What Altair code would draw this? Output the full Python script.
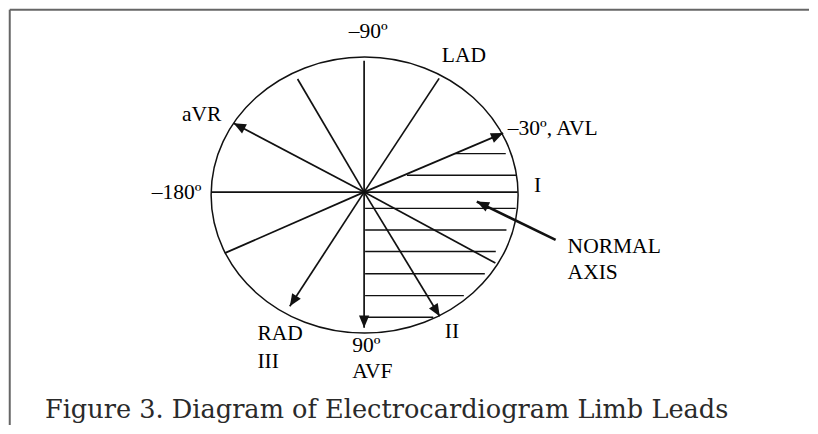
import math
import altair as alt
import pandas as pd

# Diagram units: 1 unit = 1 px, origin at the hub of the leads, y pointing up
# Spokes of the hexaxial reference system (end points on the ellipse)
spoke_name = ["-90", "LAD", "AVL", "I", "+30", "II", "AVF", "III", "+150", "-180", "aVR", "-120"]
spoke_x = [0, 75.2, 139.4, 154, 131.6, 75.8, 0, -74.5, -139.7, -153, -130.8, -66.7]
spoke_y = [132, 114.3, 59.3, 0, -71.3, -124.7, -136.3, -114.7, -61.3, 0, 69.3, 113.7]
spoke_arrow = [False, False, True, False, False, True, True, True, False, False, True, False]

# Hatching of the normal-axis sector
hatch_y = [38.7, 17, -16.3, -38, -59.7, -82, -104, -125.7]
hatch_x0 = [91.5, 43, 1, 1, 1, 1, 1, 1]
hatch_x1 = [142, 152.4, 152, 142.7, 132, 121, 100, 69.3]

# "Normal axis" pointer arrow (tail -> tip)
pointer_x = [192, 113]
pointer_y = [-48, -9.5]

# Outer ellipse
ell_cx, ell_cy, ell_a, ell_b = 0.5, -3, 153.5, 138

# Labels
label_text = ["–90º", "LAD", "aVR", "–30º, AVL", "I", "–180º", "NORMAL", "AXIS",
              "RAD", "III", "90º", "AVF", "II"]
label_x = [4, 100, -143, 144, 174, -163, 204, 204, -107, -107, -12, -12, 88]
label_y = [161, 137, 77, 63, 6, -1, -54.7, -81, -143, -171, -154.7, -181, -141]
label_align = ["center", "center", "right", "left", "center", "right", "left", "left",
               "left", "left", "left", "left", "center"]

caption = "Figure 3. Diagram of Electrocardiogram Limb Leads"
caption_x, caption_y = -320, -219

XD = [-356, 446]
YD = [-234, 184]
xs = alt.Scale(domain=XD, nice=False, zero=False)
ys = alt.Scale(domain=YD, nice=False, zero=False)


def X(f):
    return alt.X(f, type="quantitative", scale=xs, axis=None)


def Y(f):
    return alt.Y(f, type="quantitative", scale=ys, axis=None)


INK = "#111111"

spokes = pd.DataFrame({"name": spoke_name, "x": [0] * 12, "y": [0] * 12,
                       "x2": spoke_x, "y2": spoke_y, "arrow": spoke_arrow})
spoke_layer = alt.Chart(spokes).mark_rule(color=INK, strokeWidth=1.7).encode(
    x=X("x"), y=Y("y"), x2="x2", y2="y2")

hatch = pd.DataFrame({"y": hatch_y, "x0": hatch_x0, "x1": hatch_x1})
hatch_layer = alt.Chart(hatch).mark_rule(color=INK, strokeWidth=1.4).encode(
    x=X("x0"), x2="x1", y=Y("y"))

pointer = pd.DataFrame({"x": [pointer_x[0]], "y": [pointer_y[0]],
                        "x2": [pointer_x[1]], "y2": [pointer_y[1]]})
pointer_layer = alt.Chart(pointer).mark_rule(color=INK, strokeWidth=2.6).encode(
    x=X("x"), y=Y("y"), x2="x2", y2="y2")

# arrowheads: tips at the ends of the arrowed spokes and of the pointer
heads = []
for n, ex, ey, a in zip(spoke_name, spoke_x, spoke_y, spoke_arrow):
    if a:
        ang = math.degrees(math.atan2(ex, ey)) % 360
        heads.append({"x": ex, "y": ey, "angle": ang})
pang = math.degrees(math.atan2(pointer_x[1] - pointer_x[0], pointer_y[1] - pointer_y[0])) % 360
heads.append({"x": pointer_x[1], "y": pointer_y[1], "angle": pang})
heads = pd.DataFrame(heads)
head_layer = alt.Chart(heads).mark_point(
    shape="M0,0L-0.42,1L0.42,1Z", size=600, filled=True, color="#111", opacity=1,
    strokeWidth=0).encode(
    x=X("x"), y=Y("y"), angle=alt.Angle("angle:Q", scale=None))

ell = pd.DataFrame({"x": [ell_cx], "y": [ell_cy]})
ratio = ell_b / ell_a
ell_path = f"M-1,0A1,{ratio:.4f},0,1,1,1,0A1,{ratio:.4f},0,1,1,-1,0Z"
ell_layer = alt.Chart(ell).mark_point(
    shape=ell_path, size=(2 * ell_a) ** 2, filled=False, color=INK, opacity=1,
    strokeWidth=1.5).encode(x=X("x"), y=Y("y"))

labels = pd.DataFrame({"t": label_text, "x": label_x, "y": label_y, "al": label_align})
text_layers = []
for al in ["left", "center", "right"]:
    text_layers.append(
        alt.Chart(labels[labels["al"] == al]).mark_text(
            align=al, baseline="middle", font="Liberation Serif", fontSize=21.5,
            color="#000").encode(x=X("x"), y=Y("y"), text="t:N"))

cap = pd.DataFrame({"t": [caption], "x": [caption_x], "y": [caption_y]})
cap_layer = alt.Chart(cap).mark_text(
    align="left", baseline="middle", font="DejaVu Serif", fontSize=25.6,
    color="#2a2a2a").encode(x=X("x"), y=Y("y"), text="t:N")

border = pd.DataFrame({"x": [XD[0] + 0.75, XD[0] + 0.75], "y": [YD[1] - 0.75, YD[1] - 0.75],
                       "x2": [XD[1], XD[0] + 0.75], "y2": [YD[1] - 0.75, YD[0]]})
border_layer = alt.Chart(border).mark_rule(color="#666", strokeWidth=2).encode(
    x=X("x"), y=Y("y"), x2="x2", y2="y2")

chart = alt.layer(
    border_layer, ell_layer, hatch_layer, spoke_layer, pointer_layer, head_layer,
    *text_layers, cap_layer
).properties(
    width=802, height=418, padding=0,
    autosize=alt.AutoSizeParams(type="fit", contains="padding"),
    background="white"
).configure_view(stroke=None)

chart.save("out.html", embed_options={"renderer": "svg", "actions": False})
